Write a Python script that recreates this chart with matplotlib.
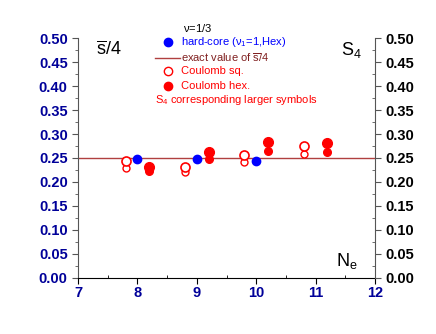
import numpy as np
import matplotlib
matplotlib.use('Agg')
import matplotlib.pyplot as plt
from matplotlib.ticker import MultipleLocator

plt.rcParams['font.family'] = ['Liberation Sans', 'DejaVu Sans']
plt.rcParams['mathtext.fontset'] = 'custom'
plt.rcParams['mathtext.rm'] = 'Liberation Sans'
plt.rcParams['mathtext.it'] = 'Liberation Sans'

# hard-core (v1=1, Hex)
hc_n = [8.0, 9.0, 10.0]
hc_val = [0.248, 0.248, 0.244]

# Coulomb square: small = s/4, large = S4
sq_n = [7.8, 8.8, 9.8, 10.8]
sq_s = [0.229, 0.221, 0.242, 0.258]
sq_S4 = [0.244, 0.232, 0.256, 0.275]

# Coulomb hexagonal
hex_n = [8.2, 9.2, 10.2, 11.2]
hex_s = [0.223, 0.247, 0.265, 0.262]
hex_S4 = [0.232, 0.263, 0.284, 0.281]

exact = 0.25

navy = '#000099'
red = '#ff0000'
brown = '#b04040'

fig = plt.figure(figsize=(4.36, 3.34), dpi=100)
ax = fig.add_axes([0.179, 0.168, 0.681, 0.718])

ax.axhline(exact, color=brown, lw=1.0, zorder=1)
ax.plot(sq_n, sq_s, 'o', ms=5, mfc='white', mec=red, mew=1.0, ls='none', zorder=3)
ax.plot(sq_n, sq_S4, 'o', ms=6.5, mfc='white', mec=red, mew=1.2, ls='none', zorder=3)
ax.plot(hex_n, hex_s, 'o', ms=5.5, color=red, ls='none', zorder=3)
ax.plot(hex_n, hex_S4, 'o', ms=7, color=red, ls='none', zorder=3)
ax.plot(hc_n, hc_val, 'o', ms=6, color='blue', ls='none', zorder=4)

ax.set_xlim(7, 12)
ax.set_ylim(0, 0.5)
ax.xaxis.set_major_locator(MultipleLocator(1))
ax.xaxis.set_minor_locator(MultipleLocator(0.5))
ax.yaxis.set_major_locator(MultipleLocator(0.05))
ax.yaxis.set_minor_locator(MultipleLocator(0.025))
ax.yaxis.set_major_formatter(plt.FormatStrFormatter('%.2f'))

ax.spines['top'].set_visible(False)
ax.spines['right'].set_visible(False)
ax.spines['left'].set_color('#555555')
ax.tick_params(axis='y', which='major', direction='out', length=4, labelsize=10.5,
               labelcolor=navy, color='#555555')
ax.tick_params(axis='y', which='minor', direction='out', length=2, color='#555555')
ax.tick_params(axis='x', which='major', direction='out', length=4, labelsize=10.5,
               labelcolor=navy, pad=2)
ax.tick_params(axis='x', which='minor', direction='in', length=2)
for lab in ax.get_xticklabels() + ax.get_yticklabels():
    lab.set_fontweight('bold')

ax2 = ax.twinx()
ax2.set_ylim(0, 0.5)
ax2.yaxis.set_major_locator(MultipleLocator(0.05))
ax2.yaxis.set_minor_locator(MultipleLocator(0.025))
ax2.yaxis.set_major_formatter(plt.FormatStrFormatter('%.2f'))
for s in ['top', 'left', 'bottom']:
    ax2.spines[s].set_visible(False)
ax2.spines['right'].set_color('#555555')
ax2.tick_params(axis='y', which='major', direction='out', length=4, labelsize=10.5,
                labelcolor='black', color='#555555')
ax2.tick_params(axis='y', which='minor', direction='in', length=2, color='#555555')
for lab in ax2.get_yticklabels():
    lab.set_fontweight('bold')

ax.text(0.06, 0.99, r'$\overline{\rm s}$/4', transform=ax.transAxes, fontsize=13,
        va='top', ha='left')
ax.text(0.885, 0.99, r'S$_4$', transform=ax.transAxes, fontsize=13, va='top', ha='left')
ax.text(0.87, 0.03, r'N$_{\rm e}$', transform=ax.transAxes, fontsize=13, va='bottom', ha='left')

# hand-placed key, laid out like the original
tr = ax.transAxes
fs = 8
ax.text(0.354, 1.042, r'$\nu$=1/3', transform=tr, fontsize=fs, va='center', ha='left')
ax.plot([0.303], [0.983], 'o', color='blue', ms=6, transform=tr, clip_on=False)
ax.text(0.347, 0.983, r'hard-core ($\nu_1$=1,Hex)', transform=tr, fontsize=fs,
        color='blue', va='center', ha='left')
ax.plot([0.259, 0.343], [0.917, 0.917], color=brown, lw=1.0, transform=tr, clip_on=False)
ax.text(0.347, 0.917, r'exact value of $\overline{\rm s}$/4', transform=tr, fontsize=fs,
        color='#802020', va='center', ha='left')
ax.plot([0.303], [0.8625], 'o', mfc='white', mec=red, mew=1.0, ms=6, transform=tr)
ax.text(0.347, 0.8625, 'Coulomb sq.', transform=tr, fontsize=fs, color=red,
        va='center', ha='left')
ax.plot([0.303], [0.80], 'o', color=red, ms=6, transform=tr)
ax.text(0.347, 0.80, 'Coulomb hex.', transform=tr, fontsize=fs, color=red,
        va='center', ha='left')
ax.text(0.259, 0.742, r'S$_4$ corresponding larger symbols', transform=tr,
        fontsize=fs, color=red, va='center', ha='left')

fig.savefig('out.png', dpi=100)
